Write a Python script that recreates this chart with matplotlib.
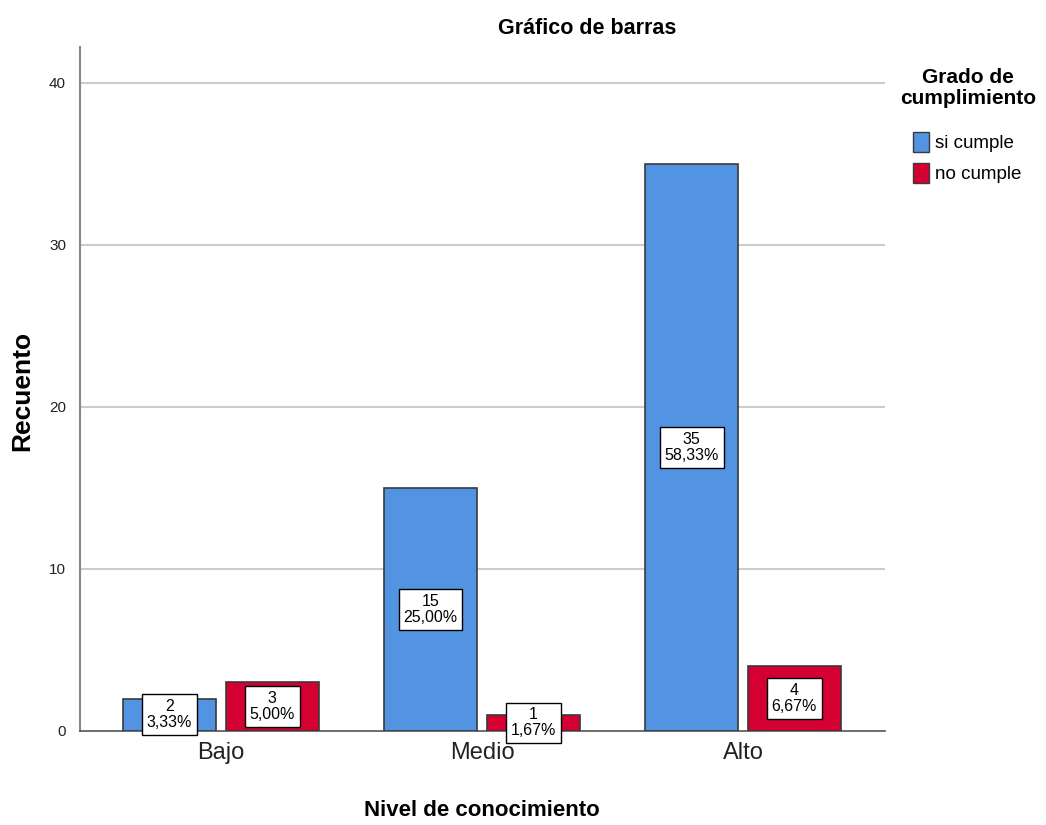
import numpy as np
import matplotlib
matplotlib.use("Agg")
import matplotlib.pyplot as plt
from matplotlib.patches import Patch

plt.rcParams['font.family'] = ['Liberation Sans', 'DejaVu Sans']

# datos
niveles = ["Bajo", "Medio", "Alto"]
grupos = ["si cumple", "no cumple"]
si_cumple = [2, 15, 35]
no_cumple = [3, 1, 4]
pct_si = ["3,33%", "25,00%", "58,33%"]
pct_no = ["5,00%", "1,67%", "6,67%"]

colores = ["#5294E2", "#D50032"]
borde = "#3a3a3a"

fig = plt.figure(figsize=(10.46, 8.25), dpi=100)
ax = fig.add_axes([80 / 1046, (825 - 731) / 825, (885 - 80) / 1046, (731 - 47) / 825])

x = np.arange(len(niveles))
ancho = 0.356
sep = 0.019
series = [(si_cumple, pct_si, -1), (no_cumple, pct_no, 1)]

for i, (vals, pcts, lado) in enumerate(series):
    pos = x + lado * (ancho / 2 + sep)
    ax.bar(pos, vals, width=ancho, color=colores[i], edgecolor=borde,
           linewidth=1.2, zorder=3)
    for p, v, t in zip(pos, vals, pcts):
        ax.text(p, v / 2, f"{v}\n{t}", ha="center", va="center", fontsize=11.5,
                linespacing=1.1, zorder=5,
                bbox=dict(boxstyle="square,pad=0.3", fc="white", ec="black", lw=1))

ax.set_xlim(-0.54, 2.544)
ax.set_ylim(0, 42.2)
ax.set_yticks([0, 10, 20, 30, 40])
ax.set_xticks(x)
ax.set_xticklabels(niveles, fontsize=17, color="#222222")
ax.tick_params(axis="y", labelsize=11, length=0, pad=10, labelcolor="#222222")
ax.tick_params(axis="x", length=0, pad=8)
for y in [10, 20, 30, 40]:
    ax.axhline(y, color="#cccccc", lw=1.5, zorder=1)
for s in ["top", "right"]:
    ax.spines[s].set_visible(False)
ax.spines["left"].set_color("#888888")
ax.spines["left"].set_linewidth(1.5)
ax.spines["bottom"].set_color("#555555")
ax.spines["bottom"].set_linewidth(1.2)

fig.text(587 / 1046, 1 - 28 / 825, "Gráfico de barras", ha="center", va="center",
         fontsize=15.5, fontweight="bold")
fig.text(482 / 1046, 1 - 811 / 825, "Nivel de conocimiento", ha="center", va="center",
         fontsize=16, fontweight="bold")
fig.text(22 / 1046, 1 - 391 / 825, "Recuento", ha="center", va="center",
         rotation=90, fontsize=19, fontweight="bold")

# leyenda
fig.text(968 / 1046, 1 - 88 / 825, "Grado de\ncumplimiento", ha="center", va="center",
         fontsize=15, fontweight="bold", linespacing=1.15)
handles = [Patch(facecolor=c, edgecolor=borde, label=g) for c, g in zip(colores, grupos)]
fig.legend(handles=handles, loc="upper left", bbox_to_anchor=(913 / 1046, 1 - 132 / 825),
           frameon=False, fontsize=13.5, borderpad=0, borderaxespad=0,
           handlelength=0.85, handleheight=1.3, handletextpad=0.3,
           labelspacing=0.55)

fig.savefig("out.png", dpi=100)
